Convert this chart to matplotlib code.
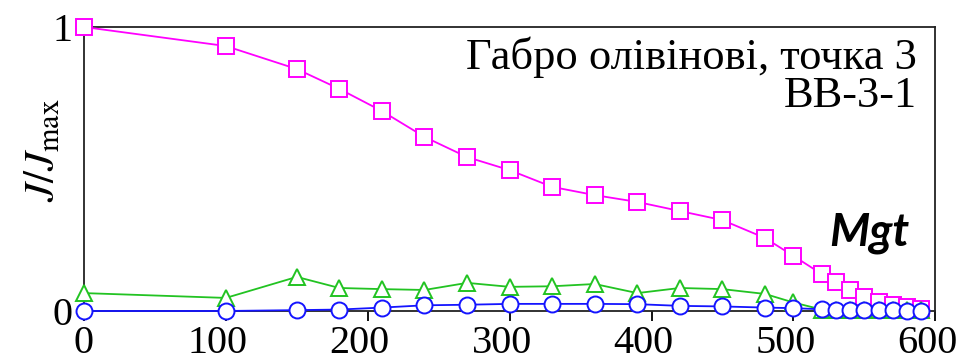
import matplotlib
matplotlib.use('Agg')
import matplotlib.pyplot as plt
from matplotlib.transforms import ScaledTranslation

plt.rcParams['mathtext.fontset'] = 'stix'

# temperature steps
x_vals = [0, 100, 150, 180, 210, 240, 270, 300, 330, 360, 390, 420, 450,
          480, 500, 520, 530, 540, 550, 560, 570, 580, 590]

mgt = [1.0, 0.933, 0.852, 0.782, 0.704, 0.613, 0.542, 0.496, 0.437, 0.408,
       0.384, 0.352, 0.320, 0.257, 0.194, 0.130, 0.102, 0.074, 0.049, 0.032,
       0.021, 0.014, 0.007]
green = [0.063, 0.046, 0.120, 0.081, 0.077, 0.074, 0.099, 0.085, 0.087, 0.095,
         0.063, 0.081, 0.077, 0.060, 0.030, 0.005, 0.004, 0.004, 0.003, 0.003,
         0.003, 0.002, 0.002]
blue = [0.0, 0.0, 0.003, 0.005, 0.012, 0.020, 0.022, 0.025, 0.025, 0.025,
        0.024, 0.018, 0.016, 0.012, 0.010, 0.006, 0.004, 0.003, 0.003, 0.002,
        0.002, 0.001, 0.001]

xticks = [0, 100, 200, 300, 400, 500, 600]

fig = plt.figure(figsize=(9.63, 3.63), dpi=100)
ax = fig.add_axes([0.0872, 0.1433, 0.884, 0.7823])

common = dict(markerfacecolor='white', markersize=11.5, markeredgewidth=1.4,
              linewidth=1.3, clip_on=False)
ax.plot(x_vals, mgt, color='#FF00FF', marker='s', zorder=3, **common)
ax.plot(x_vals, green, color='#22C322', marker='^', zorder=4, **common)
ax.plot(x_vals, blue, color='#1414FF', marker='o', zorder=5, **common)

ax.set_xlim(0, 600)
ax.set_ylim(0, 1)
ax.set_xticks(xticks)
ax.set_yticks([0, 1])
ax.set_yticklabels(['0', '1'])
ax.tick_params(axis='x', direction='out', length=7, width=1.3, pad=3,
               labelsize=29)
ax.tick_params(axis='y', length=0, pad=8, labelsize=29)
for lab in ax.get_xticklabels() + ax.get_yticklabels():
    lab.set_family('Liberation Serif')
# multi-digit labels sit a bit left of their ticks in the original
shift = ScaledTranslation(-8 / 100, 0, fig.dpi_scale_trans)
for lab in ax.get_xticklabels()[1:]:
    lab.set_transform(lab.get_transform() + shift)
for sp in ax.spines.values():
    sp.set_linewidth(1.3)
    sp.set_color('#222222')

ax.set_ylabel(r'$J/J_{\rm max}$', fontsize=31)
ax.yaxis.set_label_coords(-0.024, 0.567)

ax.text(0.978, 0.965, 'Габро олівінові, точка 3\nВВ-3-1', transform=ax.transAxes,
        ha='right', va='top', fontsize=32, family='Liberation Serif',
        linespacing=0.92)
ax.text(0.969, 0.232, 'Mgt', transform=ax.transAxes, ha='right', va='baseline',
        fontsize=33, family='Lato', fontweight='bold', fontstyle='italic')

fig.savefig('out.png', dpi=100)
